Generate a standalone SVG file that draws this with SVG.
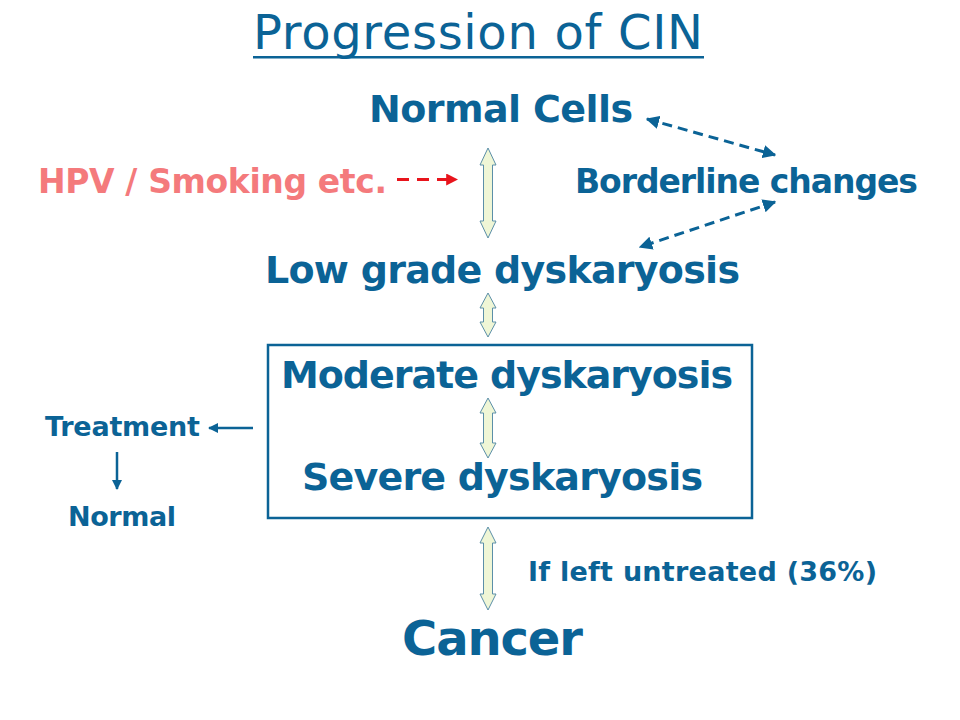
<svg xmlns="http://www.w3.org/2000/svg" width="960" height="720" viewBox="0 0 960 720">
<style>
.t{font-family:"DejaVu Sans",Verdana,sans-serif;font-weight:bold;fill:#0b6396}
.red{font-family:"DejaVu Sans",Verdana,sans-serif;font-weight:bold;fill:#f47a7c}
.blk{fill:#eff6d6;stroke:#5b8fa8;stroke-width:1}
.dash{fill:none;stroke:#0b6396;stroke-width:3;stroke-dasharray:10 6}
</style>
<defs>
<marker id="bh" viewBox="0 0 10 10" refX="9" refY="5" markerWidth="4.5" markerHeight="4.5" orient="auto-start-reverse"><path d="M0,0 L10,5 L0,10 z" fill="#0b6396"/></marker>
<marker id="rh" viewBox="0 0 10 10" refX="9" refY="5" markerWidth="4" markerHeight="4" orient="auto"><path d="M0,0 L10,5 L0,10 z" fill="#e8141c"/></marker>
<marker id="sh" viewBox="0 0 10 10" refX="9" refY="5" markerWidth="4" markerHeight="4" orient="auto"><path d="M0,0 L10,5 L0,10 z" fill="#0b6396"/></marker>
</defs>
<rect width="960" height="720" fill="#ffffff"/>
<g id="title">
<text x="253" y="49" font-family="DejaVu Sans,Verdana,sans-serif" font-size="48" fill="#0b6396" textLength="450">Progression of CIN</text>
<rect x="253" y="56" width="451" height="2.5" fill="#0b6396"/>
</g>
<g id="normal-cells"><text class="t" x="369" y="122" font-size="38" textLength="264">Normal Cells</text></g>
<g id="hpv"><text class="red" x="38" y="193" font-size="33" textLength="349">HPV / Smoking etc.</text></g>
<g id="borderline"><text class="t" x="575" y="193" font-size="33" textLength="343">Borderline changes</text></g>
<g id="low-grade"><text class="t" x="265" y="283" font-size="38" textLength="475">Low grade dyskaryosis</text></g>
<g id="high-grade">
<rect x="268" y="345" width="484" height="173" fill="none" stroke="#0b6396" stroke-width="2.5"/>
<text class="t" x="281" y="388" font-size="38" textLength="452">Moderate dyskaryosis</text>
<text class="t" x="302" y="490" font-size="38" textLength="401">Severe dyskaryosis</text>
</g>
<g id="treatment"><text class="t" x="45" y="436" font-size="27" textLength="155">Treatment</text></g>
<g id="normal"><text class="t" x="68" y="526" font-size="27" textLength="108">Normal</text></g>
<g id="untreated"><text class="t" x="528" y="581" font-size="27" textLength="349">If left untreated (36%)</text></g>
<g id="cancer"><text class="t" x="402" y="655" font-size="48" textLength="181">Cancer</text></g>
<g id="connectors">
<polygon class="blk" points="488,148 496,165 492.5,165 492.5,221 496,221 488,238 480,221 483.5,221 483.5,165 480,165"/>
<polygon class="blk" points="488,293 496,308 492.5,308 492.5,322 496,322 488,337 480,322 483.5,322 483.5,308 480,308"/>
<polygon class="blk" points="488,398 496,413 492.5,413 492.5,443 496,443 488,458 480,443 483.5,443 483.5,413 480,413"/>
<polygon class="blk" points="488,527 496,543 492.5,543 492.5,594 496,594 488,610 480,594 483.5,594 483.5,543 480,543"/>
<line x1="397" y1="179.5" x2="457" y2="179.5" stroke="#e8141c" stroke-width="3" stroke-dasharray="12 8" marker-end="url(#rh)"/>
<line class="dash" x1="647" y1="119" x2="775" y2="155" marker-start="url(#bh)" marker-end="url(#bh)"/>
<line class="dash" x1="775" y1="202" x2="640" y2="247" marker-start="url(#bh)" marker-end="url(#bh)"/>
<line x1="253" y1="428" x2="209" y2="428" stroke="#0b6396" stroke-width="2.5" marker-end="url(#sh)"/>
<line x1="117" y1="452" x2="117" y2="489" stroke="#0b6396" stroke-width="2.5" marker-end="url(#sh)"/>
</g>
</svg>
